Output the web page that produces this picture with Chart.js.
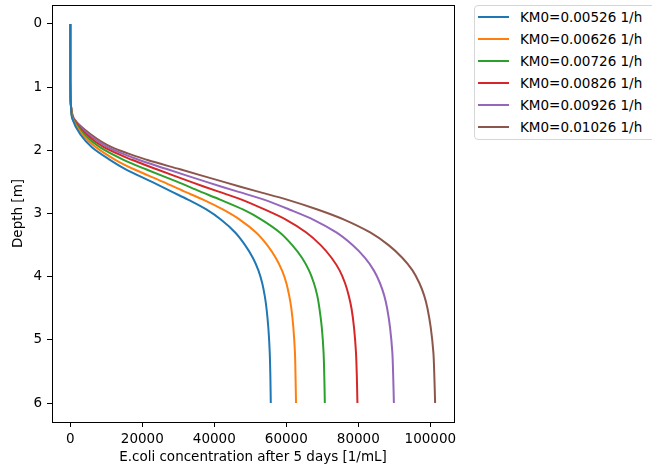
<!DOCTYPE html>
<html>
<head>
<meta charset="utf-8">
<script src="https://cdn.jsdelivr.net/npm/chart.js@4/dist/chart.umd.min.js"></script>
<style>
  html, body { margin: 0; padding: 0; background: #fff; overflow: hidden; }
  #wrap { position: relative; width: 652px; height: 470px; }
  #legend {
    position: absolute; left: 474px; top: 5px; width: 200px;
    border: 1px solid #d6d6d6; border-radius: 4px; background: #fff;
    font-family: "DejaVu Sans", sans-serif; font-size: 13.5px; color: #000;
    padding: 0 0 1px 0;
  }
  .row { height: 22px; display: flex; align-items: center; }
  .swatch { width: 31px; height: 2px; margin-left: 3px; margin-right: 11px; }
</style>
</head>
<body>
<div id="wrap">
  <canvas id="chart" width="652" height="470"></canvas>
  <div id="legend"></div>
</div>
<script>
/* ================= DATA ================= */
const depth = [0, 0.5, 1, 1.3, 1.5, 1.75, 1.95, 2.15, 2.3, 2.5, 2.65, 2.78, 2.94,
  3.1, 3.3, 3.5, 3.7, 3.9, 4.1, 4.3, 4.5, 4.8, 5.2, 5.6, 6];

const km0_00526 = [0, 0, 20, 200, 550, 2800, 6000, 11000, 15400, 22700, 28000, 32700, 37900,
  41900, 45800, 48550, 50700, 52250, 53300, 54000, 54500, 55000, 55400, 55580, 55690];
const km0_00626 = [0, 0, 20, 200, 650, 3350, 7100, 12500, 17700, 25800, 31600, 36900, 42500,
  47150, 51600, 54700, 57050, 58800, 60000, 60800, 61400, 61950, 62400, 62570, 62700];
const km0_00726 = [0, 0, 20, 200, 750, 3900, 8200, 14800, 21000, 29800, 36000, 41600, 48100,
  53200, 58200, 61650, 64350, 66300, 67650, 68600, 69200, 69850, 70350, 70560, 70700];
const km0_00826 = [0, 0, 20, 200, 850, 4500, 9300, 17100, 24000, 33500, 41000, 47600, 54100,
  60000, 65550, 69550, 72550, 74800, 76300, 77350, 78100, 78800, 79350, 79600, 79750];
const km0_00926 = [0, 0, 20, 200, 950, 5100, 10400, 18950, 27000, 37800, 46300, 53800, 61000,
  67600, 73900, 78400, 81800, 84300, 86000, 87200, 88000, 88800, 89450, 89700, 89880];
const km0_01026 = [0, 0, 20, 200, 1050, 5750, 11500, 21250, 30500, 42600, 51900, 60200, 68850,
  76200, 83300, 88400, 92200, 95050, 96950, 98300, 99200, 100100, 100850, 101130, 101330];

const labels = [
  "KM0=0.00526 1/h", "KM0=0.00626 1/h", "KM0=0.00726 1/h",
  "KM0=0.00826 1/h", "KM0=0.00926 1/h", "KM0=0.01026 1/h"
];
const series = [km0_00526, km0_00626, km0_00726, km0_00826, km0_00926, km0_01026];
const colors = ["#1f77b4", "#ff7f0e", "#2ca02c", "#d62728", "#9467bd", "#8c564b"];

const xTicks = [0, 20000, 40000, 60000, 80000, 100000];
const yTicks = [0, 1, 2, 3, 4, 5, 6];

/* ================= DATASETS ================= */
const datasets = series.map((vals, i) => ({
  label: labels[i],
  data: vals.map((v, k) => ({ x: v, y: depth[k] })),
  borderColor: colors[i],
  backgroundColor: colors[i],
  borderWidth: 2,
  pointRadius: 0,
  fill: false,
  tension: 0.3
}));

/* ================= FRAME PLUGIN ================= */
const frame = {
  id: "frame",
  afterDraw(chart) {
    const { ctx, chartArea: a } = chart;
    ctx.save();
    ctx.strokeStyle = "#000";
    ctx.lineWidth = 1;
    ctx.strokeRect(Math.round(a.left) + 0.5, Math.round(a.top) + 0.5,
      Math.round(a.right - a.left), Math.round(a.bottom - a.top));
    ctx.restore();
  }
};

Chart.defaults.font.family = "'DejaVu Sans', sans-serif";
Chart.defaults.font.size = 13.5;
Chart.defaults.color = "#000";

new Chart(document.getElementById("chart"), {
  type: "line",
  data: { datasets },
  plugins: [frame],
  options: {
    responsive: false,
    animation: false,
    indexAxis: "y",
    layout: { padding: { left: 0, right: 198, top: 5, bottom: 0 } },
    plugins: { legend: { display: false }, tooltip: { enabled: false } },
    scales: {
      x: {
        type: "linear",
        min: -5075,
        max: 106575,
        afterBuildTicks: s => { s.ticks = xTicks.map(v => ({ value: v })); },
        afterFit: s => { s.height = 48; s.paddingLeft = 0; s.paddingRight = 0; },
        ticks: { padding: 4, maxRotation: 0, callback: v => String(v) },
        grid: { drawOnChartArea: false, drawTicks: true, tickLength: 5, color: "#000" },
        border: { display: false },
        title: { display: true, text: "E.coli concentration after 5 days [1/mL]", padding: { top: 0, bottom: 4 } }
      },
      y: {
        type: "linear",
        reverse: true,
        min: -0.3,
        max: 6.3,
        afterBuildTicks: s => { s.ticks = yTicks.map(v => ({ value: v })); },
        afterFit: s => { s.width = 52; s.paddingTop = 0; s.paddingBottom = 0; },
        ticks: { padding: 5, callback: v => String(v) },
        grid: { drawOnChartArea: false, drawTicks: true, tickLength: 5, color: "#000" },
        border: { display: false },
        title: { display: true, text: "Depth [m]", padding: { top: 10, bottom: 0 } }
      }
    }
  }
});

/* ================= LEGEND ================= */
const legend = document.getElementById("legend");
labels.forEach((lab, i) => {
  legend.innerHTML += `<div class="row"><span class="swatch" style="background:${colors[i]}"></span><span>${lab}</span></div>`;
});
</script>
</body>
</html>
